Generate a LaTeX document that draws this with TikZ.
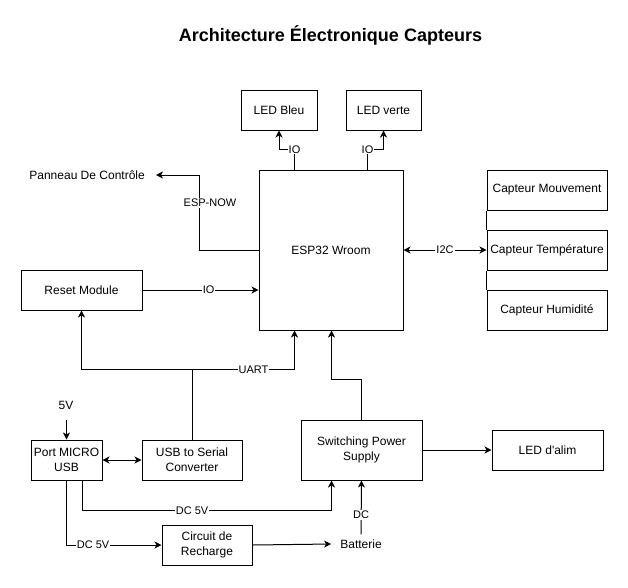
\documentclass[tikz,border=0pt]{standalone}
\usepackage{fontspec}
\setmainfont{Liberation Sans}
\usetikzlibrary{arrows.meta,calc}
\begin{document}
\begin{tikzpicture}[x=1pt,y=-1pt,
  box/.style={draw, line width=1pt, align=center, inner sep=0pt, font=\fontsize{12}{15}\selectfont},
  txt/.style={align=center, inner sep=0pt, font=\fontsize{12}{15}\selectfont},
  lbl/.style={fill=white, inner sep=1pt, font=\fontsize{11}{13}\selectfont},
  arr/.style={line width=1pt, -{Stealth[length=7pt,width=7pt,inset=2pt]}},
  arrb/.style={line width=1pt, {Stealth[length=7pt,width=7pt,inset=2pt]}-{Stealth[length=7pt,width=7pt,inset=2pt]}},
  ln/.style={line width=1pt}]
\useasboundingbox (0,0) rectangle (628,587);
\node[font=\bfseries\fontsize{18}{21}\selectfont] (title) at (330.5,35) {Architecture Électronique Capteurs};
% boxes
\node[box, minimum width=76pt, minimum height=40pt] (ledb) at (279,110) {LED Bleu};
\node[box, minimum width=75pt, minimum height=40pt] (ledv) at (383.5,110) {LED verte};
\node[box, minimum width=144pt, minimum height=160pt] (esp) at (331,250) {ESP32 Wroom};
\node[box, minimum width=121pt, minimum height=40pt] (reset) at (81.5,290) {Reset Module};
\node[box, minimum width=120pt, minimum height=40pt] (cm) at (547,190) {Capteur Mouvement};
\node[box, minimum width=120pt, minimum height=40pt] (ct) at (547,250) {Capteur Température};
\node[box, minimum width=120pt, minimum height=40pt] (ch) at (547,310) {Capteur Humidité};
\node[box, minimum width=71pt, minimum height=40pt] (port) at (66.5,460) {Port MICRO\\USB};
\node[box, minimum width=100pt, minimum height=40pt] (usb) at (192,460) {USB to Serial\\Converter};
\node[box, minimum width=121pt, minimum height=60pt] (sps) at (361.5,450) {Switching Power\\Supply};
\node[box, minimum width=111pt, minimum height=40pt] (leda) at (547.5,450) {LED d\textquotesingle alim};
\node[box, minimum width=90pt, minimum height=40pt] (circ) at (207,545) {Circuit de\\Recharge};
% free texts
\node[txt, anchor=east] (pan) at (145,175) {Panneau De Contrôle};
\node[txt, inner xsep=9pt, inner ysep=5pt] (batt) at (361,544) {Batterie};
\node[txt] (v5) at (66,405) {5V};
% connectors
\draw[arr] ($(esp.north west)+(36,0)$) -- ++(0,-20) node[lbl]{IO} -| (ledb.south);
\draw[arr] ($(esp.north west)+(109,0)$) -- ++(0,-20) node[lbl]{IO} -| (ledv.south);
\draw[arr] (esp.west) -- ++(-59,0) |- ($(pan.east)+(11,0)$);
\node[lbl] (espnow) at (210,203) {ESP-NOW};
\draw[arr] (reset.east) -- node[lbl, pos=0.57]{IO} (reset.east -| esp.west);
\draw[ln] (usb.north) -- ++(0,-70) coordinate (uj);
\draw[arr] (uj) -| (reset.south);
\draw[arr] (uj) -| node[lbl, pos=0.3]{UART} ($(esp.south west)+(36,0)$);
\draw[arr] (sps.north) -- ++(0,-40) -| ($(esp.south west)+(73,0)$);
\draw[arrb] (esp.east) -- node[lbl]{I2C} (ct.west);
\draw[ln] (cm.south west) -- (ct.north west) (ct.south west) -- (ch.north west);
\draw[arr] ($(port.north)+(0,-20)$) -- (port.north);
\draw[arrb] (port.east) -- (usb.west);
\draw[arr] ($(port.south west)+(52,0)$) -- ++(0,30) -| node[lbl, pos=0.22]{DC 5V} ($(sps.south west)+(31,0)$);
\draw[arr] (port.south) |- node[lbl, pos=0.64]{DC 5V} (circ.west);
\draw[arr] (circ.east) -- (batt.west);
\draw[arr] (batt.north) -- node[lbl, pos=0.36]{DC} (sps.south);
\draw[arr] (sps.east) -- (leda.west);
\end{tikzpicture}
\end{document}
